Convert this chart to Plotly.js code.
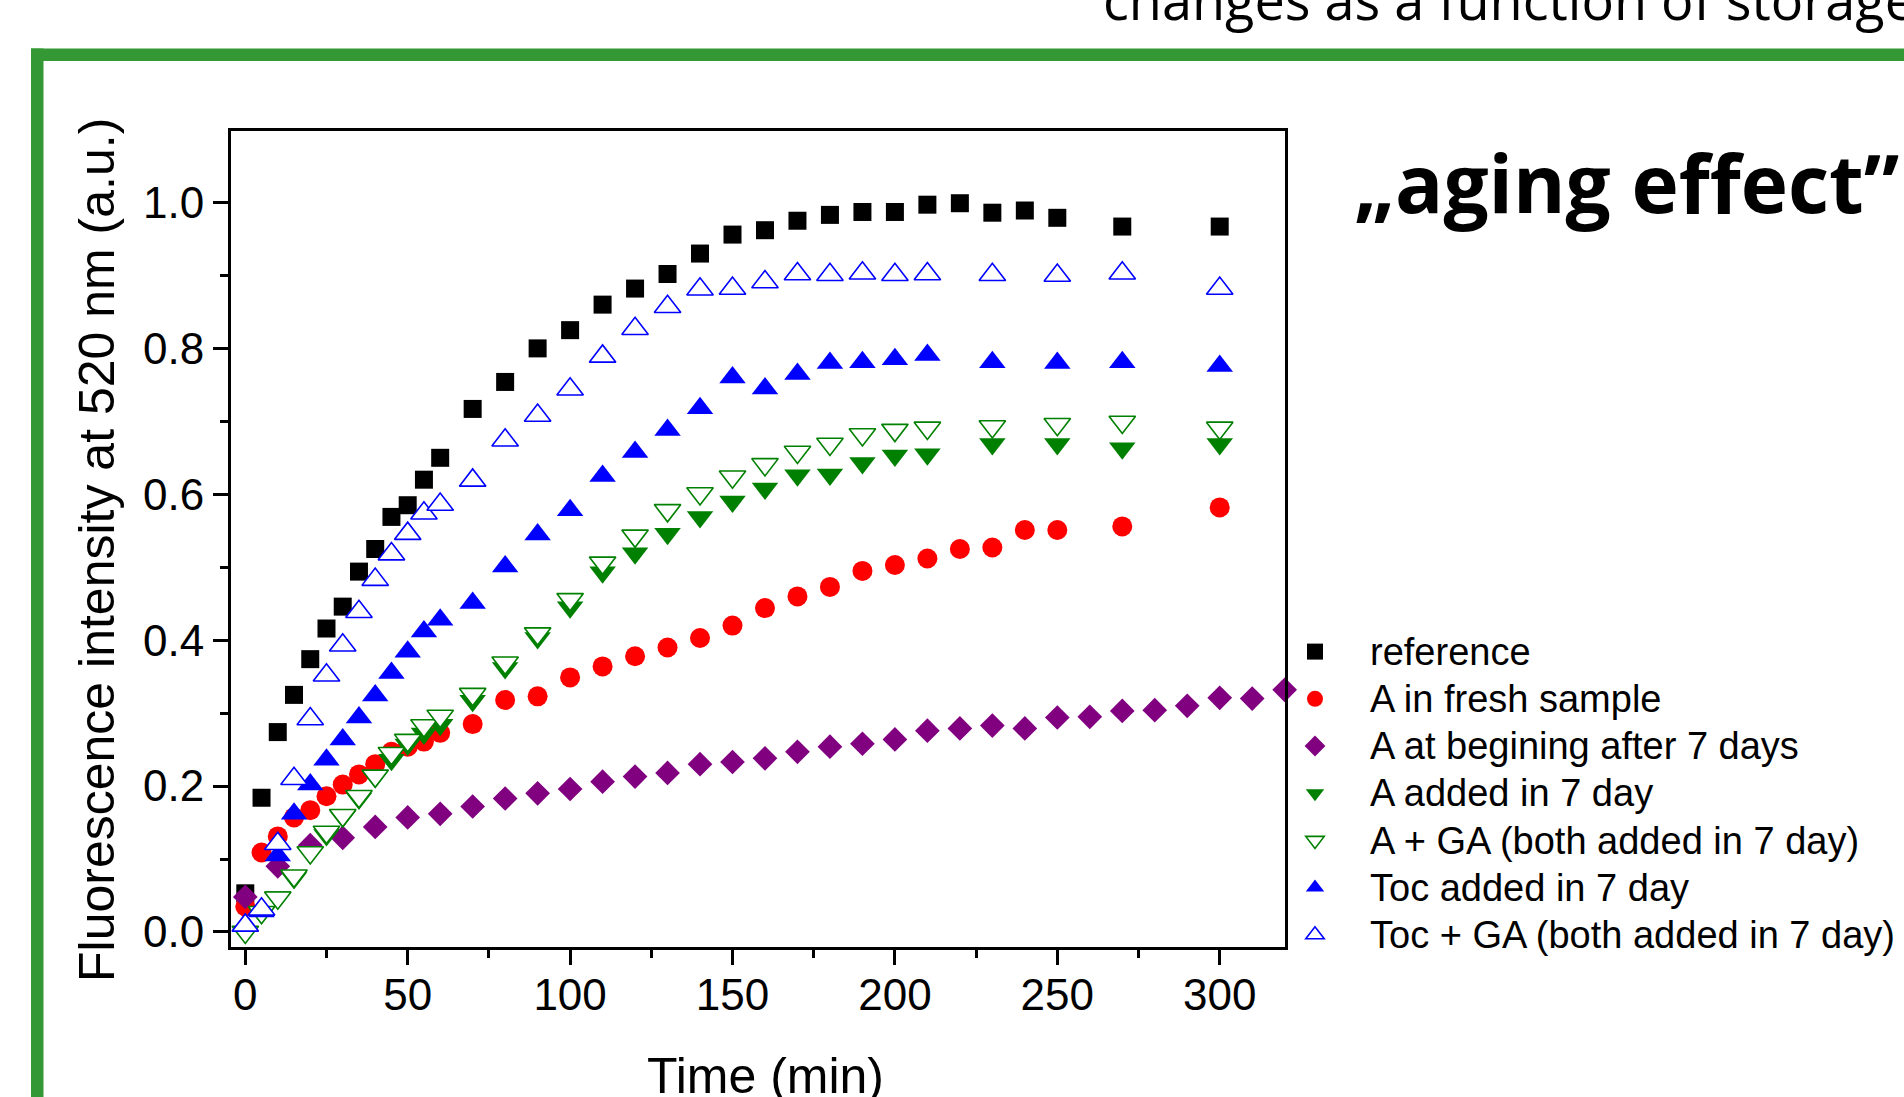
<!DOCTYPE html>
<html>
<head>
<meta charset="utf-8">
<script src="https://cdn.plot.ly/plotly-3.0.1.min.js"></script>
<style>
  html, body { margin: 0; padding: 0; background: #ffffff; }
  #chart { width: 1904px; height: 1097px; }
</style>
</head>
<body>
<div id="chart"></div>
<script>
// ---- data ----
const seriesNames = [
  "reference",
  "A in fresh sample",
  "A at begining after 7 days",
  "A added in 7 day",
  "A + GA (both added in 7 day)",
  "Toc added in 7 day",
  "Toc + GA (both added in 7 day)"
];

// time points (min)
const timeRef = [0,5,10,15,20,25,30,35,40,45,50,55,60,70,80,90,100,110,120,130,140,150,160,170,180,190,200,210,220,230,240,250,270,300];
const timeBegin = [0,10,20,30,40,50,60,70,80,90,100,110,120,130,140,150,160,170,180,190,200,210,220,230,240,250,260,270,280,290,300,310,320];
const timeAdded = [0,5,10,15,20,25,30,35,40,45,50,55,60,70,80,90,100,110,120,130,140,150,160,170,180,190,200,210,230,250,270,300];

// fluorescence intensity at 520 nm (a.u.)
const reference = [0.053,0.184,0.274,0.325,0.374,0.416,0.446,0.494,0.525,0.569,0.585,0.620,0.650,0.717,0.754,0.800,0.825,0.860,0.882,0.902,0.930,0.956,0.962,0.975,0.983,0.987,0.987,0.997,0.999,0.986,0.989,0.979,0.967,0.967];
const aFresh = [0.035,0.109,0.131,0.157,0.167,0.186,0.202,0.216,0.230,0.247,0.254,0.261,0.273,0.285,0.318,0.323,0.349,0.364,0.378,0.390,0.403,0.420,0.444,0.460,0.473,0.495,0.503,0.512,0.525,0.527,0.551,0.551,0.556,0.582];
const aBegin = [0.048,0.090,0.119,0.129,0.144,0.157,0.162,0.172,0.183,0.190,0.196,0.206,0.213,0.218,0.230,0.233,0.238,0.247,0.254,0.258,0.264,0.276,0.279,0.283,0.279,0.294,0.295,0.303,0.304,0.310,0.321,0.320,0.332];
const aAdded = [0.000,0.026,0.048,0.074,0.109,0.133,0.158,0.183,0.213,0.236,0.257,0.272,0.284,0.317,0.362,0.403,0.445,0.493,0.519,0.546,0.569,0.590,0.608,0.626,0.627,0.643,0.653,0.655,0.669,0.669,0.663,0.669];
const aGA = [0.000,0.027,0.047,0.077,0.109,0.137,0.160,0.186,0.214,0.245,0.263,0.283,0.296,0.326,0.369,0.409,0.456,0.506,0.543,0.578,0.601,0.624,0.641,0.658,0.669,0.682,0.688,0.691,0.693,0.696,0.699,0.691];
const tocAdded = [0.010,0.028,0.105,0.162,0.202,0.236,0.264,0.294,0.324,0.355,0.384,0.412,0.428,0.451,0.501,0.545,0.578,0.625,0.658,0.688,0.718,0.760,0.745,0.765,0.780,0.781,0.785,0.791,0.781,0.780,0.781,0.776];
const tocGA = [0.009,0.031,0.121,0.210,0.292,0.352,0.393,0.439,0.483,0.518,0.546,0.574,0.586,0.619,0.674,0.708,0.744,0.789,0.827,0.857,0.881,0.882,0.891,0.902,0.901,0.903,0.901,0.902,0.901,0.900,0.903,0.882];

const yTickVals = [0, 0.2, 0.4, 0.6, 0.8, 1.0];
const yTickText = ["0.0", "0.2", "0.4", "0.6", "0.8", "1.0"];
const xTickVals = [0, 50, 100, 150, 200, 250, 300];
const xTickText = ["0", "50", "100", "150", "200", "250", "300"];

const titleText = "\u201Eaging effect\u201D";
const subtitleText = "changes as a function of storage";
const xTitle = "Time (min)";
const yTitle = "Fluorescence intensity at 520 nm (a.u.)";

// ---- styling ----
const FONT = "Liberation Sans, Arial, sans-serif";
const LEG = (s) => '<span style="font-size:38px">' + s + '</span>';

function tr(x, y, name, symbol, color, size, open) {
  return {
    type: "scatter", mode: "markers", x: x, y: y, name: LEG(name),
    marker: open
      ? { symbol: symbol, size: size, color: "#ffffff", line: { color: color, width: 1.6 } }
      : { symbol: symbol, size: size, color: color, line: { width: 0 } },
    hoverinfo: "skip", cliponaxis: false
  };
}

const traces = [
  tr(timeRef,   reference, seriesNames[0], "square",        "#000000", 18, false),
  tr(timeRef,   aFresh,    seriesNames[1], "circle",        "#ff0000", 20, false),
  tr(timeBegin, aBegin,    seriesNames[2], "diamond",       "#800080", 19, false),
  tr(timeAdded, aAdded,    seriesNames[3], "triangle-down", "#008000", 23, false),
  tr(timeAdded, aGA,       seriesNames[4], "triangle-down", "#008000", 23, true),
  tr(timeAdded, tocAdded,  seriesNames[5], "triangle-up",   "#0000ff", 23, false),
  tr(timeAdded, tocGA,     seriesNames[6], "triangle-up",   "#0000ff", 23, true)
];

const L = 231, R = 619, T = 131, B = 150;
const W = 1904, H = 1097;
const pw = W - L - R, ph = H - T - B;
const px = (v) => (v - L) / pw;           // pixel -> paper x
const py = (v) => (H - B - v) / ph;       // pixel -> paper y

const green = "#349934";

const layout = {
  width: W, height: H,
  margin: { l: L, r: R, t: T, b: B, pad: 0, autoexpand: false },
  paper_bgcolor: "#ffffff", plot_bgcolor: "#ffffff",
  font: { family: FONT, color: "#000000", size: 44 },
  showlegend: true,
  legend: {
    x: px(1260), xanchor: "left", y: py(623), yanchor: "top",
    bgcolor: "rgba(0,0,0,0)", borderwidth: 0,
    font: { family: FONT, size: 34, color: "#000000" },
    itemwidth: 100, tracegroupgap: 0, itemclick: false
  },
  xaxis: {
    range: [-4.4, 320.1], showgrid: false, zeroline: false,
    showline: true, linecolor: "#000000", linewidth: 3, mirror: true,
    ticks: "outside", ticklen: 15, tickwidth: 3, tickcolor: "#000000",
    tickvals: xTickVals, ticktext: xTickText, ticklabelstandoff: -8,
    tickfont: { family: FONT, size: 44, color: "#000000" },
    minor: { dtick: 25, tick0: 0, ticks: "outside", ticklen: 8, tickwidth: 3, tickcolor: "#000000", showgrid: false },
    automargin: false, fixedrange: true
  },
  yaxis: {
    range: [-0.0206, 1.098], showgrid: false, zeroline: false,
    showline: true, linecolor: "#000000", linewidth: 3, mirror: true,
    ticks: "outside", ticklen: 15, tickwidth: 3, tickcolor: "#000000",
    tickvals: yTickVals, ticktext: yTickText,
    tickfont: { family: FONT, size: 44, color: "#000000" },
    minor: { dtick: 0.1, tick0: 0, ticks: "outside", ticklen: 8, tickwidth: 3, tickcolor: "#000000", showgrid: false },
    automargin: false, fixedrange: true
  },
  shapes: [
    { type: "rect", xref: "paper", yref: "paper", layer: "below",
      x0: px(31), x1: px(1960), y0: py(61), y1: py(48.5),
      fillcolor: green, line: { width: 0 } },
    { type: "rect", xref: "paper", yref: "paper", layer: "below",
      x0: px(31), x1: px(43.5), y0: py(1110), y1: py(48.5),
      fillcolor: green, line: { width: 0 } }
  ],
  annotations: [
    { text: yTitle, xref: "paper", yref: "paper", x: px(97), y: py(550),
      xanchor: "center", yanchor: "middle", textangle: -90, showarrow: false,
      font: { family: FONT, size: 50, color: "#000000" } },
    { text: xTitle, xref: "paper", yref: "paper", x: px(765), y: py(1076),
      xanchor: "center", yanchor: "middle", showarrow: false,
      font: { family: FONT, size: 50, color: "#000000" } },
    { text: titleText, xref: "paper", yref: "paper", x: px(1352), y: py(181),
      xanchor: "left", yanchor: "middle", showarrow: false,
      font: { family: "Open Sans, sans-serif", size: 80, color: "#000000", weight: "bold" } },
    { text: subtitleText, xref: "paper", yref: "paper", x: px(1101), y: py(-1),
      xanchor: "left", yanchor: "middle", showarrow: false,
      font: { family: "Open Sans, sans-serif", size: 54, color: "#000000" } }
  ]
};

Plotly.newPlot("chart", traces, layout, { staticPlot: true, displayModeBar: false });
</script>
</body>
</html>
